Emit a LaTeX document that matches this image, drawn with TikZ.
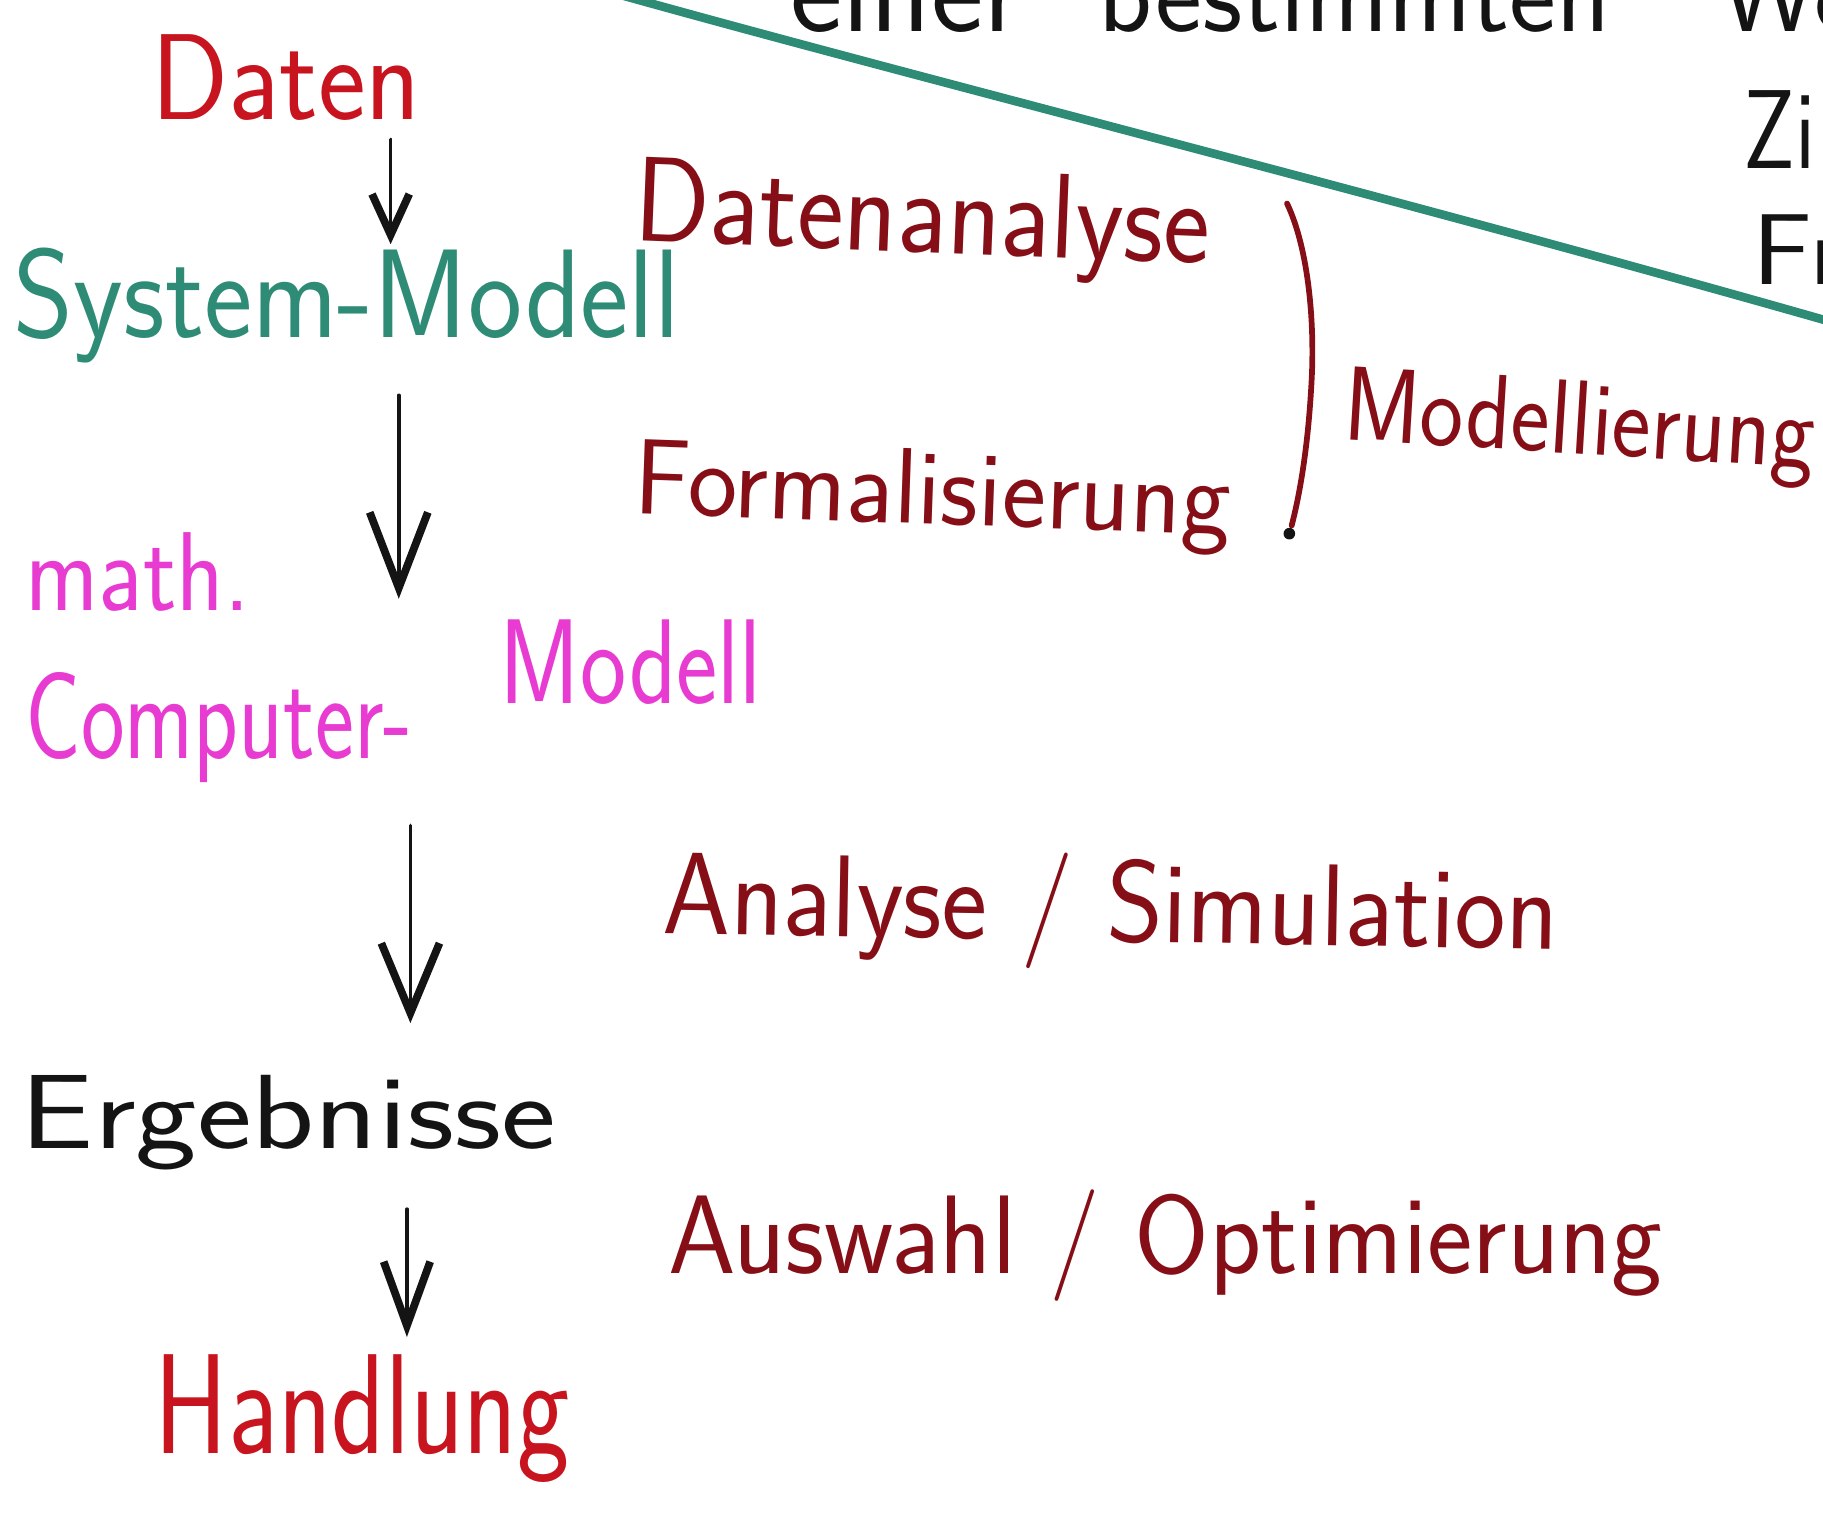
\documentclass[tikz,border=0pt]{standalone}
\usepackage{fontspec}
\usepackage{graphicx}
\usetikzlibrary{arrows.meta}

\definecolor{handred}{HTML}{C8141E}
\definecolor{inkred}{HTML}{860E17}
\definecolor{teal}{HTML}{2E8C76}
\definecolor{magenta}{HTML}{E83BD2}
\definecolor{ink}{HTML}{141414}

% one drawing unit = 0.01cm
\newlength\px
\setlength\px{0.01cm}
% handwritten word scaled to a given width and height
\newcommand\hw[3]{\resizebox{#1\px}{#2\px}{#3}}

\tikzset{
  lbl/.style={inner sep=0pt, outer sep=0pt, anchor=base west, font=\sffamily\fontsize{40}{48}\selectfont},
  arr/.style 2 args={draw=ink, line width=0.9pt, line cap=round,
    -{Straight Barb[length=#1, width=#2, line width=1.9pt]}}
}

\begin{document}
\begin{tikzpicture}[x=0.01cm, y=-0.01cm]
  \useasboundingbox (0,0) rectangle (1568,1311);
  \clip (0,0) rectangle (1568,1311);
  \fill[white] (0,0) rectangle (1568,1311);

  % text cut by the top and right edges
  \node[lbl, text=ink] (einer) at (680,27) {\resizebox{200\px}{!}{einer}};
  \node[lbl, text=ink] (bestimmten) at (945,27) {\resizebox{440\px}{!}{bestimmten}};
  \node[lbl, text=ink] (we) at (1480,27) {\resizebox{120\px}{!}{We}};
  \node[lbl, text=ink] (zi) at (1500,145) {\hw{62}{67}{Zi}};
  \node[lbl, text=ink] (fr) at (1507,245) {\hw{80}{60}{Fr}};

  % dividing stroke
  \draw[teal, line width=2.1pt, line cap=round]
    (535,-4) .. controls (800,70) and (1200,170) .. (1572,276);

  % main chain
  \node[lbl, text=handred] (daten) at (130,103) {\hw{232}{73}{Daten}};
  \node[lbl, text=teal] (sys) at (12,290) {\hw{573}{77}{System-Modell}};
  \node[lbl, text=magenta] (math) at (22,525) {\hw{193}{67}{math.}};
  \node[lbl, text=magenta] (comp) at (22,652) {\hw{333}{74}{Computer-}};
  \node[lbl, text=magenta] (cmod) at (430,605) {\hw{225}{72}{Modell}};
  \node[lbl, text=ink] (erg) at (18,988) {\hw{460}{63}{Ergebnisse}};
  \node[lbl, text=handred] (hand) at (133,1250) {\hw{357}{85}{Handlung}};

  % steps between the stages
  \node[lbl, text=inkred, rotate=-2.3] (danal) at (545,207) {\hw{495}{72}{Datenanalyse}};
  \node[lbl, text=inkred, rotate=-2] (form) at (545,442) {\hw{513}{64}{Formalisierung}};
  \node[lbl, text=inkred, rotate=-3.5] (modl) at (1155,378) {\hw{405}{63}{Modellierung}};
  \node[lbl, text=inkred, rotate=-1] (anasim) at (570,803) {\hw{770}{75}{Analyse / Simulation}};
  \node[lbl, text=inkred] (ausopt) at (575,1095) {\hw{855}{72}{Auswahl / Optimierung}};

  % bracket grouping the first two steps
  \draw[inkred, line width=1.4pt, line cap=round]
    (1107,175) .. controls (1126,215) and (1131,280) .. (1128,330)
    .. controls (1125,385) and (1118,425) .. (1111,452);
  \fill[ink] (1109,459) circle (5);

  % arrows
  \draw[arr={0.35cm}{0.32cm}, shorten <=0.17cm, shorten >=0.03cm] (daten.base -| 336,0) -- (sys.north -| 336,0);
  \draw[arr={0.65cm}{0.50cm}, shorten <=0.50cm, shorten >=0.18cm] (sys.base -| 343,0) -- (cmod.north -| 343,0);
  \draw[arr={0.60cm}{0.50cm}, shorten <=0.58cm, shorten >=0.45cm] (comp.base -| 353,0) -- (erg.north -| 353,0);
  \draw[arr={0.55cm}{0.40cm}, shorten <=0.52cm, shorten >=0.15cm] (erg.base -| 350,0) -- (hand.north -| 350,0);
\end{tikzpicture}
\end{document}
